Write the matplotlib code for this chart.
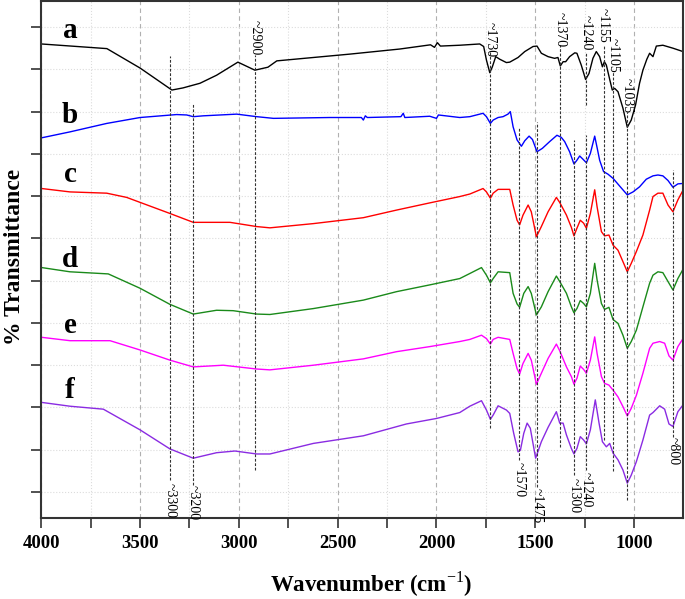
import matplotlib
matplotlib.use("Agg")
import matplotlib.pyplot as plt
from matplotlib.ticker import MultipleLocator

plt.rcParams['font.family'] = ['Liberation Serif', 'DejaVu Serif']
plt.rcParams['mathtext.fontset'] = 'custom'
plt.rcParams['mathtext.rm'] = 'Liberation Serif'
plt.rcParams['mathtext.bf'] = 'Liberation Serif:bold'

# spectra (wavenumber, offset transmittance)
wn_a = [4000, 3668, 3500, 3339, 3283, 3197, 3113, 3005, 2919, 2853, 2808, 2438, 2186,
        2030, 2010, 1995, 1980, 1882, 1781, 1761, 1747, 1730, 1717, 1700, 1680, 1646,
        1629, 1587, 1553, 1511, 1491, 1469, 1435, 1402, 1385, 1373, 1359, 1346, 1326,
        1300, 1289, 1267, 1245, 1228, 1208, 1191, 1174, 1160, 1150, 1140, 1123, 1110,
        1098, 1081, 1056, 1034, 1014, 992, 972, 955, 935, 921, 904, 887, 854, 803, 752]
val_a = [10.60, 10.49, 10.03, 9.51, 9.56, 9.67, 9.86, 10.17, 9.98, 10.05, 10.20, 10.36, 10.48,
         10.58, 10.52, 10.63, 10.55, 10.57, 10.60, 10.54, 10.22, 9.92, 10.06, 10.30, 10.24, 10.16,
         10.17, 10.28, 10.42, 10.54, 10.55, 10.38, 10.30, 10.26, 10.28, 10.08, 10.18, 10.18, 10.30,
         10.39, 10.38, 10.10, 9.76, 9.90, 10.26, 10.42, 10.30, 10.06, 10.18, 10.10, 9.76, 9.51,
         9.55, 9.47, 9.08, 8.63, 8.80, 9.16, 9.67, 9.98, 10.24, 10.38, 10.30, 10.55, 10.57, 10.50, 10.42]

wn_b = [3998, 3855, 3669, 3500, 3315, 3264, 3231, 3180, 3011, 2910, 2825, 2539, 2380, 2370,
        2360, 2350, 2180, 2168, 2160, 2034, 2000, 1990, 1882, 1831, 1764, 1747, 1727, 1713,
        1688, 1663, 1638, 1626, 1612, 1592, 1570, 1553, 1531, 1514, 1491, 1464, 1427, 1390,
        1368, 1351, 1326, 1304, 1289, 1275, 1262, 1241, 1221, 1199, 1187, 1174, 1160, 1154,
        1132, 1106, 1073, 1034, 1005, 972, 938, 904, 879, 854, 828, 803, 778, 752]
val_b = [8.38, 8.52, 8.72, 8.86, 8.93, 8.92, 8.88, 8.90, 8.94, 8.88, 8.84, 8.86, 8.86, 8.80,
         8.90, 8.86, 8.88, 8.96, 8.86, 8.89, 8.84, 8.92, 8.86, 8.88, 8.96, 8.88, 8.72, 8.80,
         8.86, 8.88, 8.94, 9.00, 8.64, 8.33, 8.18, 8.31, 8.42, 8.34, 8.05, 8.13, 8.29, 8.44,
         8.39, 8.29, 8.05, 7.76, 7.85, 7.95, 7.89, 7.79, 8.01, 8.42, 8.15, 7.85, 7.66, 7.58,
         7.52, 7.42, 7.24, 7.03, 7.10, 7.22, 7.40, 7.48, 7.50, 7.48, 7.37, 7.21, 7.29, 7.30]

wn_c = [3998, 3855, 3669, 3568, 3349, 3231, 3045, 2910, 2843, 2623, 2370, 2202, 2034, 1882,
        1831, 1764, 1747, 1727, 1713, 1688, 1629, 1612, 1592, 1579, 1562, 1536, 1520, 1494,
        1469, 1435, 1393, 1376, 1342, 1317, 1304, 1289, 1272, 1255, 1241, 1221, 1199, 1187,
        1165, 1149, 1127, 1106, 1081, 1056, 1034, 1014, 988, 955, 921, 904, 879, 854, 828,
        803, 778, 752]
val_c = [7.18, 7.10, 7.07, 6.97, 6.59, 6.38, 6.38, 6.28, 6.25, 6.35, 6.49, 6.67, 6.84, 6.99,
         7.05, 7.18, 7.10, 6.95, 7.07, 7.16, 7.16, 6.79, 6.43, 6.32, 6.55, 6.79, 6.63, 6.04,
         6.28, 6.63, 6.97, 6.85, 6.55, 6.26, 6.06, 6.24, 6.43, 6.36, 6.24, 6.59, 7.15, 6.75,
         6.16, 6.06, 6.08, 5.84, 5.72, 5.45, 5.21, 5.41, 5.69, 6.08, 6.67, 6.99, 7.07, 7.07, 6.79,
         6.63, 6.91, 7.14]

wn_d = [3998, 3855, 3661, 3500, 3349, 3231, 3113, 3029, 2910, 2843, 2623, 2370, 2202, 2034,
        1882, 1831, 1772, 1747, 1727, 1713, 1688, 1629, 1612, 1592, 1579, 1558, 1536, 1520,
        1494, 1469, 1435, 1393, 1376, 1342, 1317, 1304, 1289, 1272, 1255, 1241, 1221, 1199,
        1187, 1165, 1149, 1127, 1106, 1081, 1056, 1034, 1014, 988, 955, 921, 904, 879, 854,
        828, 803, 778, 752]
val_d = [5.31, 5.21, 5.16, 4.82, 4.44, 4.21, 4.30, 4.29, 4.21, 4.20, 4.34, 4.54, 4.74, 4.90,
         5.05, 5.17, 5.31, 5.13, 4.95, 5.05, 5.21, 5.19, 4.70, 4.45, 4.37, 4.70, 4.86, 4.70,
         4.19, 4.38, 4.74, 5.11, 4.98, 4.70, 4.38, 4.24, 4.34, 4.53, 4.46, 4.38, 4.70, 5.41,
         5.02, 4.46, 4.32, 4.37, 4.08, 3.99, 3.71, 3.40, 3.56, 3.83, 4.38, 4.94, 5.13, 5.21, 5.19,
         4.98, 4.78, 5.05, 5.27]

wn_e = [3998, 3855, 3652, 3500, 3349, 3231, 3079, 2910, 2843, 2623, 2370, 2202, 2034, 1882,
        1831, 1772, 1747, 1727, 1713, 1688, 1629, 1612, 1592, 1579, 1562, 1536, 1520, 1494,
        1469, 1435, 1393, 1376, 1342, 1317, 1304, 1289, 1272, 1255, 1241, 1221, 1199, 1187,
        1165, 1149, 1127, 1106, 1081, 1056, 1034, 1014, 988, 955, 921, 904, 870, 845, 823,
        803, 778, 752]
val_e = [3.66, 3.58, 3.58, 3.36, 3.12, 2.96, 3.00, 2.91, 2.89, 3.00, 3.15, 3.32, 3.44, 3.56,
         3.61, 3.71, 3.63, 3.50, 3.61, 3.66, 3.61, 3.28, 2.92, 2.79, 3.04, 3.28, 3.12, 2.55,
         2.81, 3.16, 3.50, 3.34, 2.96, 2.73, 2.55, 2.69, 2.98, 2.90, 2.81, 3.12, 3.67, 3.28,
         2.73, 2.57, 2.53, 2.41, 2.25, 2.02, 1.80, 1.98, 2.29, 2.81, 3.40, 3.52, 3.56, 3.52, 3.22,
         3.12, 3.44, 3.63]

wn_f = [3998, 3855, 3686, 3500, 3349, 3231, 3113, 3020, 2910, 2843, 2623, 2370, 2152, 2000,
        1882, 1831, 1772, 1747, 1727, 1713, 1688, 1646, 1629, 1609, 1587, 1575, 1558, 1541,
        1525, 1498, 1469, 1435, 1393, 1376, 1359, 1342, 1317, 1304, 1289, 1272, 1255, 1241,
        1221, 1196, 1177, 1160, 1140, 1123, 1106, 1081, 1056, 1034, 1014, 988, 955, 921, 904,
        870, 845, 823, 803, 778, 752]
val_f = [2.12, 2.03, 1.96, 1.47, 1.02, 0.80, 0.93, 0.97, 0.90, 0.90, 1.15, 1.33, 1.61, 1.74,
         1.88, 2.03, 2.16, 1.94, 1.72, 1.82, 2.04, 1.94, 1.86, 1.39, 0.95, 0.99, 1.39, 1.63,
         1.51, 0.80, 1.19, 1.53, 1.90, 1.63, 1.63, 1.35, 1.03, 0.90, 1.03, 1.31, 1.23, 1.14,
         1.47, 2.18, 1.63, 1.19, 1.07, 1.15, 0.92, 0.76, 0.52, 0.21, 0.40, 0.72, 1.23, 1.82, 1.88,
         2.04, 1.96, 1.61, 1.55, 1.90, 2.06]

spectra = [(wn_a, val_a, 'black'), (wn_b, val_b, '#0000ff'), (wn_c, val_c, '#ff0000'),
           (wn_d, val_d, '#1a8a1a'), (wn_e, val_e, '#ff00ff'), (wn_f, val_f, '#8a2be2')]

curve_names = ['a', 'b', 'c', 'd', 'e', 'f']
name_y = [10.74, 8.73, 7.33, 5.32, 3.76, 2.22]

# marker lines: position, top, bottom
mark_x = [3349, 3234, 2919, 1730, 1580, 1493, 1373, 1304, 1241, 1241, 1154, 1106, 1034, 803]
mark_top = [10.31, 9.20, 10.34, 10.41, 8.63, 8.75, 10.57, 8.33, 10.41, 8.45, 10.57, 9.94, 8.99, 7.62]
mark_bot = [0.28, 0.17, 0.52, 1.51, 0.76, 0.12, 1.06, 0.40, 9.16, 0.52, 1.23, 0.50, -0.19, 1.30]

# peak labels: text, x, top of text
peak_txt = ['~2900', '~1730', '~1370', '~1240', '~1155', '~1105', '~1035',
            '~3300', '~3200', '~1570', '~1475', '~1300', '~1240', '~800']
peak_x = [2919, 1730, 1373, 1241, 1154, 1106, 1034, 3349, 3234, 1580, 1493, 1304, 1241, 803]
peak_top = [11.17, 11.12, 11.36, 11.28, 11.45, 10.74, 9.79, 0.21, 0.17, 0.71, 0.09, 0.33, 0.47, 1.30]

fig = plt.figure(figsize=(6.85, 5.99), dpi=100)
ax = fig.add_axes([0.0603, 0.1352, 0.9368, 0.8631])

for wn, val, col in spectra:
    ax.plot(wn, val, color=col, lw=1.0)

for x, t, b in zip(mark_x, mark_top, mark_bot):
    ax.plot([x, x], [b, t], color='#333333', lw=0.8, ls=(0, (2.5, 1.5)))

for s, x, t in zip(peak_txt, peak_x, peak_top):
    ax.text(x, t, s, rotation=270, ha='center', va='top', fontsize=10)

for s, y in zip(curve_names, name_y):
    ax.text(3855, y, s, ha='center', va='baseline', fontsize=21, fontweight='bold')

ax.set_xlim(4000, 752)
ax.set_ylim(-0.615, 11.616)
ax.set_xticks([4000, 3500, 3000, 2500, 2000, 1500, 1000])
ax.xaxis.set_minor_locator(MultipleLocator(250))
ax.set_yticks(range(12))
ax.set_yticklabels([])
ax.tick_params(which='both', direction='out', length=7, width=1.2, color='#333333')
ax.tick_params(axis='x', labelsize=13.5, pad=5)
for lab in ax.get_xticklabels():
    lab.set_fontweight('bold')

ax.grid(which='major', axis='x', color='#b0b0b0', ls=(0, (4, 3)), lw=0.8)
ax.grid(which='minor', axis='x', color='#dcdcdc', ls=':', lw=0.8)
ax.grid(which='major', axis='y', color='#dcdcdc', ls=':', lw=0.8)
ax.set_axisbelow(True)
for sp in ax.spines.values():
    sp.set_linewidth(1.5)
    sp.set_color('#333333')

ax.set_xlabel(r'Wavenumber (cm$^{-1}$)', fontsize=16.5, fontweight='bold')
ax.xaxis.set_label_coords(0.514, -0.100)
ax.set_ylabel('% Transmittance', fontsize=17, fontweight='bold')
ax.yaxis.set_label_coords(-0.026, 0.505)

fig.savefig('out.png', dpi=100)
